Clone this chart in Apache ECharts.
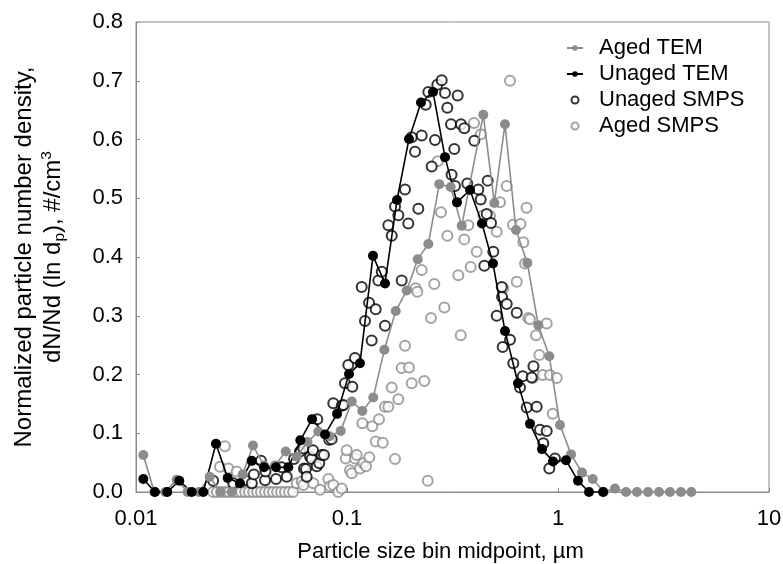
<!DOCTYPE html>
<html>
<head>
<meta charset="utf-8">
<script src="https://cdn.jsdelivr.net/npm/echarts@6/dist/echarts.min.js"></script>
<style>
html,body{margin:0;padding:0;background:#fff;}
#chart{width:783px;height:564px;}
</style>
</head>
<body>
<div id="chart"></div>
<script>
// ---------- data ----------
var xTickLabels = ['0.01', '0.1', '1', '10'];
var yTickLabels = ['0.0','0.1','0.2','0.3','0.4','0.5','0.6','0.7','0.8'];

var agedTemX = [0.01083,0.01221,0.01377,0.01559,0.01758,0.01983,0.02235,0.0252,0.02842,0.03205,
  0.03585,0.04044,0.04559,0.05124,0.05776,0.06497,0.07311,0.08262,0.09336,0.1053,
  0.1182,0.1332,0.1503,0.1702,0.1919,0.2163,0.2429,0.2738,0.31,0.3497,
  0.4426,0.499,0.5608,0.6323,0.7154,0.8066,0.9095,1.022,1.153,1.299,
  1.461,1.647,1.862,2.101,2.368,2.671,3.011,3.395,3.828,4.284];
var agedTemY = [0.063,0,0,0.021,0,0,0.026,0,0,0.03,
  0.079,0.045,0.045,0.069,0.06,0.085,0.103,0.095,0.104,0.154,
  0.138,0.161,0.242,0.308,0.343,0.396,0.422,0.524,0.519,0.453,
  0.642,0.492,0.626,0.446,0.390,0.284,0.231,0.114,0.064,0.033,
  0.022,0,0.006,0,0,0,0,0,0,0];

var unagedTemX = [0.01083,0.0123,0.01407,0.01604,0.01837,0.02084,0.02393,0.0272,0.0311,0.03535,
  0.04044,0.0461,0.0527,0.0601,0.0683,0.0787,0.0897,0.1022,0.1152,0.1328,
  0.1514,0.1726,0.1967,0.2242,0.2556,0.2914,0.3321,0.3828,0.4363,0.4919,
  0.5608,0.6463,0.7368,0.84,0.947,1.091,1.244,1.403,1.635];
var unagedTemY = [0.022,0,0,0.019,0,0,0.082,0.024,0.015,0.053,
  0.042,0.042,0.042,0.088,0.124,0.098,0.133,0.201,0.219,0.402,
  0.355,0.497,0.601,0.663,0.681,0.570,0.493,0.514,0.457,0.389,
  0.274,0.185,0.116,0.073,0.052,0.054,0.019,0,0];

var unagedSmpsX = [0.0232,0.0289,0.0329,0.0354,0.0362,0.0391,0.0409,0.0411,0.0461,0.049,
  0.0518,0.0561,0.0599,0.0621,0.0625,0.0639,0.0644,0.0668,0.068,0.069,
  0.0719,0.0723,0.0739,0.0759,0.0778,0.0824,0.0846,0.0861,0.0944,0.0961,
  0.0978,0.1014,0.106,0.1091,0.1174,0.1217,0.1272,0.1309,0.1368,0.1408,
  0.1461,0.1514,0.157,0.1629,0.1689,0.1751,0.1816,0.1883,0.1952,0.2026,
  0.2101,0.2178,0.2259,0.2361,0.2429,0.252,0.2613,0.2679,0.2811,0.2914,
  0.2989,0.3111,0.313,0.3225,0.3249,0.3347,0.347,0.3597,0.3716,0.4012,
  0.4192,0.4303,0.4475,0.4594,0.4644,0.4814,0.4936,0.5123,0.5411,0.543,
  0.547,0.5714,0.5923,0.614,0.6374,0.6606,0.6804,0.7108,0.7505,0.765,
  0.7925,0.8217,0.8519,0.884,0.9095,0.9678];
var unagedSmpsY = [0.019,0.015,0.02,0.015,0.03,0.053,0.02,0.035,0.022,0.042,
  0.026,0.056,0.069,0.074,0.04,0.039,0.026,0.06,0.056,0.071,
  0.044,0.124,0.049,0.063,0.063,0.089,0.09,0.151,0.147,0.148,
  0.185,0.216,0.179,0.228,0.349,0.291,0.322,0.258,0.311,0.36,
  0.375,0.283,0.454,0.436,0.486,0.471,0.36,0.515,0.457,0.604,
  0.579,0.482,0.607,0.659,0.681,0.554,0.599,0.693,0.701,0.679,
  0.654,0.626,0.54,0.584,0.521,0.675,0.626,0.619,0.525,0.598,
  0.515,0.498,0.385,0.473,0.53,0.458,0.409,0.30,0.349,0.332,
  0.247,0.32,0.259,0.219,0.305,0.178,0.197,0.144,0.195,0.214,
  0.145,0.106,0.083,0.104,0.04,0.057];

var agedSmpsZeroX = [0.0232,0.0242,0.0253,0.0264,0.0276,0.0288,0.0301,0.0315,0.0329,0.0343,
  0.0359,0.0375,0.0391,0.0409,0.0427,0.0446,0.0466,0.0487,0.0508,0.0531,0.0555];
var agedSmpsZeroY = [0,0,0,0,0,0,0,0,0,0,0,0,0,0,0,0,0,0,0,0,0];

var agedSmpsX = [0.025,0.0264,0.0274,0.03,0.0578,0.061,0.0621,0.0692,0.0745,0.0816,
  0.0831,0.0861,0.0909,0.0944,0.0986,0.0997,0.1033,0.1053,0.1091,0.1112,
  0.1152,0.1182,0.1195,0.123,0.1276,0.1318,0.1368,0.1418,0.1477,0.1514,
  0.157,0.1629,0.1689,0.1751,0.1816,0.1883,0.1967,0.2026,0.2117,0.2154,
  0.2259,0.2325,0.2413,0.2501,0.2593,0.2691,0.2789,0.2892,0.2989,0.337,
  0.3459,0.3597,0.3757,0.3857,0.3999,0.4119,0.4303,0.4426,0.4762,0.5123,
  0.5311,0.5506,0.5714,0.5923,0.6119,0.6374,0.6643,0.6848,0.6977,0.7092,
  0.7232,0.7368,0.7588,0.778,0.7865,0.8154,0.8463,0.884,0.9166,0.9438,
  0.9858];
var agedSmpsY = [0.043,0.078,0.04,0.035,0.015,0.018,0.012,0.015,0.004,0.022,
  0.01,0.012,0,0.006,0.057,0.071,0.037,0.032,0.057,0.063,
  0.04,0.117,0.049,0.044,0.059,0.112,0.086,0.124,0.084,0.145,
  0.145,0.178,0.056,0.158,0.211,0.249,0.212,0.185,0.347,0.341,
  0.378,0.189,0.019,0.296,0.354,0.563,0.476,0.314,0.436,0.369,
  0.267,0.43,0.454,0.383,0.628,0.409,0.609,0.471,0.47,0.443,
  0.493,0.347,0.521,0.70,0.455,0.358,0.456,0.425,0.389,0.484,
  0.296,0.294,0.194,0.199,0.267,0.233,0.199,0.287,0.199,0.133,
  0.194];

// ---------- build ----------
function zip(xs, ys) { return xs.map(function (x, i) { return [x, ys[i]]; }); }

var GRAY = '#8c8c8c';
var AXIS = '#8a8a8a';
var FONT = "'Liberation Sans', Arial, sans-serif";

var chart = echarts.init(document.getElementById('chart'), null, {renderer: 'canvas'});
chart.setOption({
  animation: false,
  backgroundColor: '#fff',
  grid: {left: 136, right: 14, top: 22, bottom: 72, show: true, borderColor: AXIS, borderWidth: 1,
         containLabel: false, outerBoundsMode: 'none'},
  legend: {
    orient: 'vertical', left: 561, top: 32,
    itemWidth: 16, itemHeight: 7, itemGap: 4,
    data: ['Aged TEM', 'Unaged TEM', 'Unaged SMPS', 'Aged SMPS'],
    textStyle: {fontSize: 22, color: '#000', fontFamily: FONT, padding: [0, 0, 0, 11]}
  },
  xAxis: {
    type: 'log', logBase: 10, min: 0.01, max: 10,
    name: 'Particle size bin midpoint, µm',
    nameLocation: 'middle', nameGap: 49,
    nameTextStyle: {fontSize: 22, color: '#000', fontFamily: FONT, padding: [0, 24, 0, 0]},
    axisLine: {show: true, lineStyle: {color: AXIS, width: 1}},
    axisTick: {show: true, inside: true, length: 4, lineStyle: {color: AXIS}},
    minorTick: {show: false},
    splitLine: {show: false},
    axisLabel: {
      fontSize: 22, color: '#000', fontFamily: FONT, margin: 16,
      formatter: function (v) { return xTickLabels[Math.round(Math.log10(v)) + 2]; }
    }
  },
  yAxis: {
    type: 'value', min: 0, max: 0.8, interval: 0.1,
    name: '{t|Normalized particle number density,}\n{t|dN/Nd (ln d}{sub|p}{t|), #/cm}{sup|3}',
    nameLocation: 'middle', nameRotate: 90, nameGap: 68,
    nameTextStyle: {
      fontFamily: FONT, color: '#000',
      rich: {
        t: {fontSize: 24, lineHeight: 29, color: '#000', fontFamily: FONT},
        sub: {fontSize: 15.5, lineHeight: 29, verticalAlign: 'bottom', color: '#000', fontFamily: FONT},
        sup: {fontSize: 15.5, lineHeight: 29, verticalAlign: 'top', color: '#000', fontFamily: FONT}
      }
    },
    axisLine: {show: true, lineStyle: {color: AXIS, width: 1}},
    axisTick: {show: true, inside: true, length: 4, lineStyle: {color: AXIS}},
    splitLine: {show: false},
    axisLabel: {
      fontSize: 22, color: '#000', fontFamily: FONT, margin: 13,
      formatter: function (v) { return yTickLabels[Math.round(v * 10)]; }
    }
  },
  series: [
    {
      name: 'Aged SMPS', type: 'scatter',
      data: zip(agedSmpsZeroX, agedSmpsZeroY).concat(zip(agedSmpsX, agedSmpsY)),
      symbol: 'emptyCircle', symbolSize: 10,
      itemStyle: {color: GRAY, borderColor: GRAY, borderWidth: 1.8}
    },
    {
      name: 'Unaged SMPS', type: 'scatter',
      data: zip(unagedSmpsX, unagedSmpsY),
      symbol: 'emptyCircle', symbolSize: 10,
      itemStyle: {color: '#000', borderColor: '#000', borderWidth: 1.4}
    },
    {
      name: 'Aged TEM', type: 'line',
      data: zip(agedTemX, agedTemY),
      symbol: 'circle', symbolSize: 10, showSymbol: true, showAllSymbol: true,
      lineStyle: {color: GRAY, width: 1.6},
      itemStyle: {color: GRAY}
    },
    {
      name: 'Unaged TEM', type: 'line',
      data: zip(unagedTemX, unagedTemY),
      symbol: 'circle', symbolSize: 10, showSymbol: true, showAllSymbol: true,
      lineStyle: {color: '#000', width: 1.6},
      itemStyle: {color: '#000'}
    }
  ]
});
</script>
</body>
</html>
